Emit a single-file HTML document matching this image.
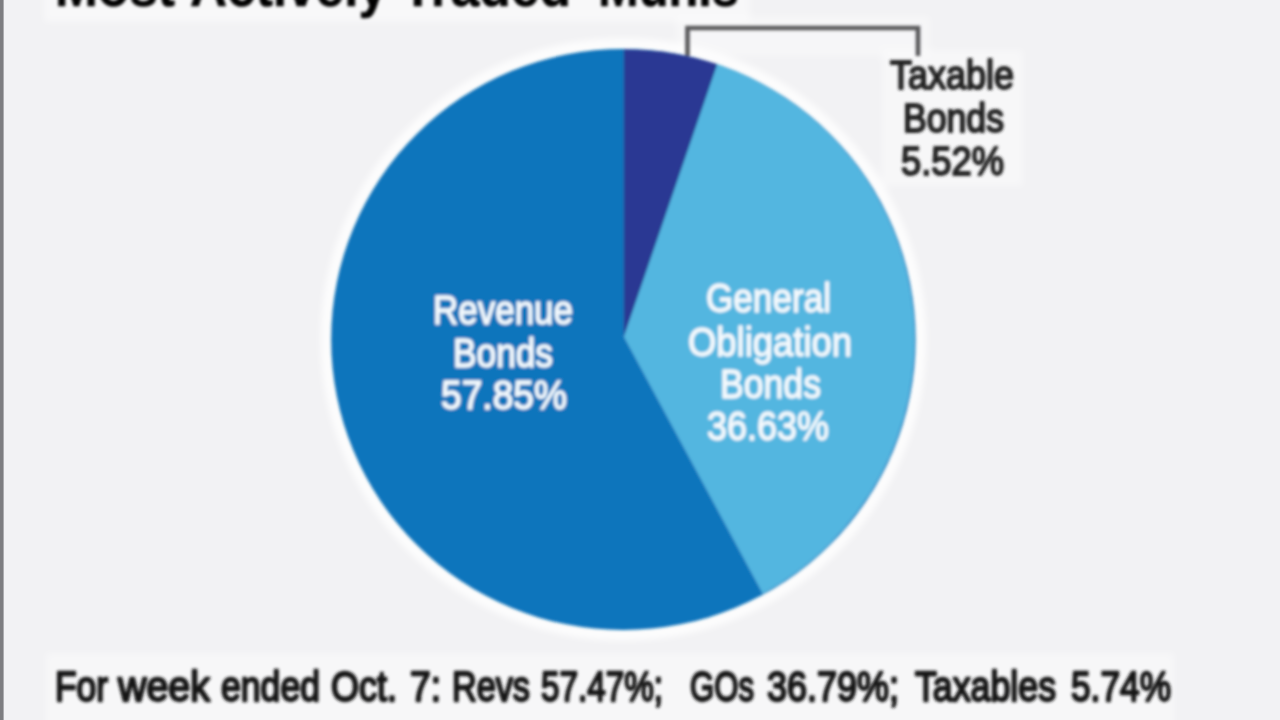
<!DOCTYPE html>
<html lang="en">
<head>
<meta charset="utf-8">
<title>Most Actively Traded Munis</title>
<style>
html,body{margin:0;padding:0;background:#f2f2f4;}
body{width:1280px;height:720px;overflow:hidden;position:relative;font-family:"Liberation Sans",sans-serif;}
svg{position:absolute;left:0;top:0;display:block;}
text{font-family:"Liberation Sans",sans-serif;stroke-linejoin:round;}
.t{font-weight:bold;font-size:58px;fill:#000;stroke:#000;stroke-width:0.6px;}
.d{font-size:41px;fill:#222;stroke:#222;stroke-width:2px;}
.w{font-size:41px;fill:#f4f9fd;stroke:#f4f9fd;stroke-width:1.3px;}
.f{font-size:42px;fill:#161616;stroke:#161616;stroke-width:2.3px;}
</style>
</head>
<body>
<svg width="1280" height="720" viewBox="0 0 1280 720">
<defs>
<filter id="soft" x="0" y="0" width="1280" height="720" filterUnits="userSpaceOnUse"><feGaussianBlur stdDeviation="1.6"/></filter>
<filter id="halo" x="0" y="0" width="1280" height="720" filterUnits="userSpaceOnUse"><feGaussianBlur stdDeviation="3.5"/></filter>
</defs>
<rect x="0" y="0" width="1280" height="720" fill="#f2f2f4"/>
<g filter="url(#halo)"><ellipse cx="623.4" cy="339.4" rx="297" ry="295.5" fill="none" stroke="#ffffff" stroke-width="11" opacity="0.85"/>
<rect x="46" y="653" width="1128" height="80" fill="#ffffff" opacity="0.4"/>
<rect x="882" y="50" width="141" height="136" fill="#ffffff" opacity="0.4"/>
<rect x="44" y="-10" width="706" height="32" fill="#ffffff" opacity="0.45"/>
<rect x="676" y="16" width="254" height="40" fill="#ffffff" opacity="0.35"/></g>
<rect x="0" y="0" width="3.6" height="720" fill="#7e7e81"/>
<g filter="url(#soft)">
<g id="title" class="t">
<text x="55" y="6.3" textLength="120" lengthAdjust="spacingAndGlyphs">Most</text>
<text x="190" y="6.3" textLength="197" lengthAdjust="spacingAndGlyphs">Actively</text>
<text x="402" y="6.3" textLength="169" lengthAdjust="spacingAndGlyphs">Traded</text>
<text x="598" y="6.3" textLength="141" lengthAdjust="spacingAndGlyphs">Munis</text>
</g>
<path d="M687.5 56 V28 H918 V56" fill="none" stroke="#58585a" stroke-width="4.6"/>
<g id="pie">
<ellipse cx="623.4" cy="339.4" rx="292.2" ry="290.5" fill="#1075bc"/>
<path d="M623.9 336.8 L623.9 49.4 A292.2 290.5 0 0 1 717.4 64.3 Z" fill="#2b3893"/>
<path d="M623.9 336.8 L717.4 64.3 A292.2 290.5 0 0 1 762.8 593.7 Z" fill="#53b6e0"/>
</g>
<g class="d">
<text x="890" y="89" textLength="124" lengthAdjust="spacingAndGlyphs">Taxable</text>
<text x="903" y="131.5" textLength="101" lengthAdjust="spacingAndGlyphs">Bonds</text>
<text x="901" y="174.5" textLength="103" lengthAdjust="spacingAndGlyphs">5.52%</text>
</g>
<g class="w">
<text x="433" y="323.5" textLength="140" lengthAdjust="spacingAndGlyphs">Revenue</text>
<text x="453" y="366.5" textLength="100" lengthAdjust="spacingAndGlyphs">Bonds</text>
<text x="441" y="409" textLength="126" lengthAdjust="spacingAndGlyphs">57.85%</text>
<text x="706" y="311.5" textLength="125" lengthAdjust="spacingAndGlyphs">General</text>
<text x="688" y="355.5" textLength="164" lengthAdjust="spacingAndGlyphs">Obligation</text>
<text x="720" y="397.5" textLength="101" lengthAdjust="spacingAndGlyphs">Bonds</text>
<text x="707" y="439.5" textLength="122" lengthAdjust="spacingAndGlyphs">36.63%</text>
</g>
<g class="f">
<text x="55" y="700.8" textLength="53" lengthAdjust="spacingAndGlyphs">For</text>
<text x="118" y="700.8" textLength="92" lengthAdjust="spacingAndGlyphs">week</text>
<text x="221" y="700.8" textLength="99" lengthAdjust="spacingAndGlyphs">ended</text>
<text x="331" y="700.8" textLength="66" lengthAdjust="spacingAndGlyphs">Oct.</text>
<text x="410" y="700.8" textLength="31" lengthAdjust="spacingAndGlyphs">7:</text>
<text x="452" y="700.8" textLength="78" lengthAdjust="spacingAndGlyphs">Revs</text>
<text x="541" y="700.8" textLength="122" lengthAdjust="spacingAndGlyphs">57.47%;</text>
<text x="690" y="700.8" textLength="64" lengthAdjust="spacingAndGlyphs">GOs</text>
<text x="767" y="700.8" textLength="132" lengthAdjust="spacingAndGlyphs">36.79%;</text>
<text x="915" y="700.8" textLength="141" lengthAdjust="spacingAndGlyphs">Taxables</text>
<text x="1071" y="700.8" textLength="100" lengthAdjust="spacingAndGlyphs">5.74%</text>
</g>
</g>
</svg>
</body>
</html>
